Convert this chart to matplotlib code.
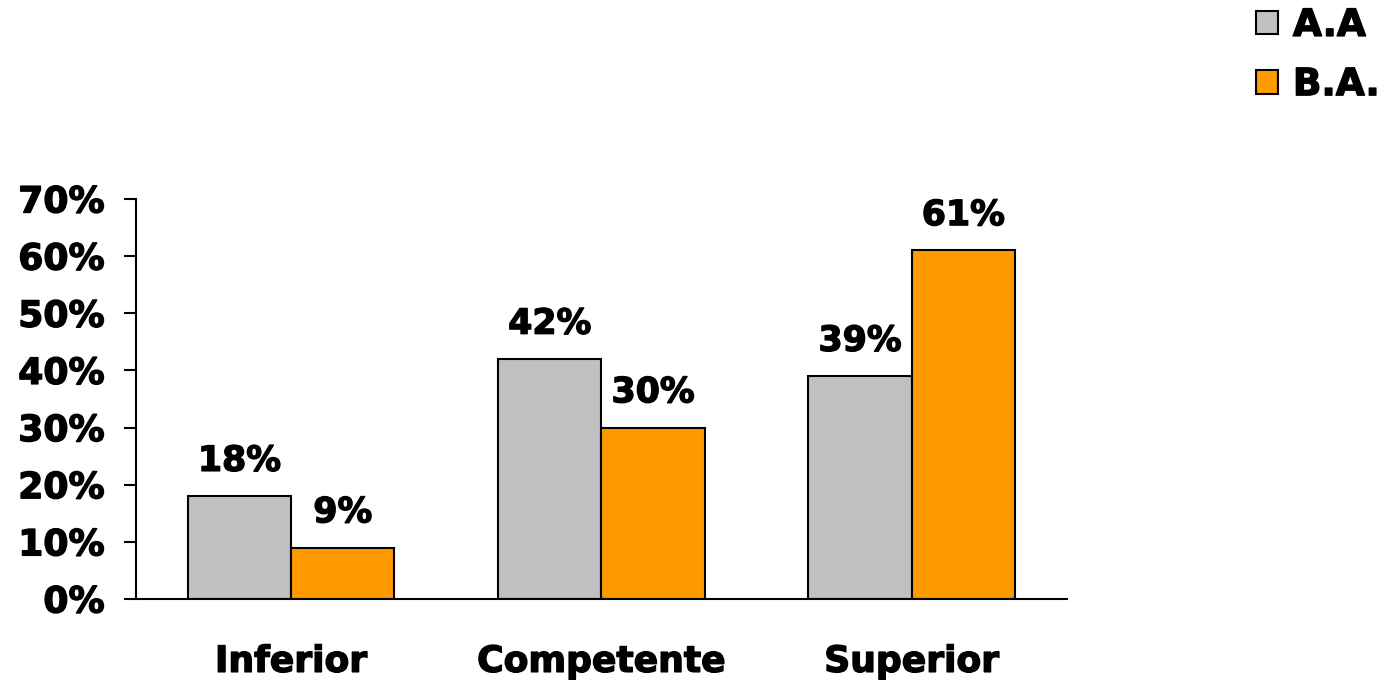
import matplotlib

matplotlib.use("Agg")
import matplotlib.pyplot as plt
import matplotlib.patheffects as pe
import numpy as np

categories = ["Inferior", "Competente", "Superior"]
series_names = ["A.A", "B.A."]
aa_values = [18, 42, 39]
ba_values = [9, 30, 61]
y_ticks = [0, 10, 20, 30, 40, 50, 60, 70]

colors = ["#C0C0C0", "#FF9900"]

plt.rcParams["font.family"] = ["DejaVu Sans"]
plt.rcParams["font.weight"] = "bold"

# slight stroke to make the bold text look heavier, like the original
heavy = [pe.withStroke(linewidth=1.0, foreground="black")]

fig = plt.figure(figsize=(13.82, 6.80), dpi=100)
ax = fig.add_axes([0.0984, 0.1191, 0.6736, 0.5883])

x = np.arange(len(categories)) + 0.5
width = 0.333

handles = []
for i, (vals, name) in enumerate(zip([aa_values, ba_values], series_names)):
    offset = (i - 0.5) * width
    bars = ax.bar(x + offset, vals, width, color=colors[i], edgecolor="black",
                  linewidth=1.5, label=name, zorder=2)
    handles.append(bars)
    for xi, v in zip(x + offset, vals):
        ax.text(xi, v + 3.2, f"{v}%", ha="center", va="bottom",
                fontsize=25, fontweight="bold", path_effects=heavy)

ax.set_xlim(0, 3)
ax.set_ylim(0, 70)
ax.set_yticks(y_ticks)
ax.set_yticklabels([f"{t}%" for t in y_ticks], fontsize=26, fontweight="bold")
ax.set_xticks(x)
ax.set_xticklabels(categories, fontsize=26, fontweight="bold")
ax.tick_params(axis="x", length=0, pad=33)
ax.tick_params(axis="y", length=8.6, width=1.5, pad=14, direction="out")
for lbl in ax.get_xticklabels() + ax.get_yticklabels():
    lbl.set_path_effects(heavy)

for side in ["top", "right"]:
    ax.spines[side].set_visible(False)
for side in ["left", "bottom"]:
    ax.spines[side].set_linewidth(1.5)

leg = fig.legend(handles=handles, labels=series_names, loc="upper right",
                 bbox_to_anchor=(1.023, 1.038), frameon=False,
                 prop={"weight": "bold", "size": 27}, handlelength=0.58,
                 handleheight=0.58, handletextpad=0.4, labelspacing=0.62)
for t in leg.get_texts():
    t.set_path_effects(heavy)

fig.savefig("out.png", dpi=100, facecolor="white")
